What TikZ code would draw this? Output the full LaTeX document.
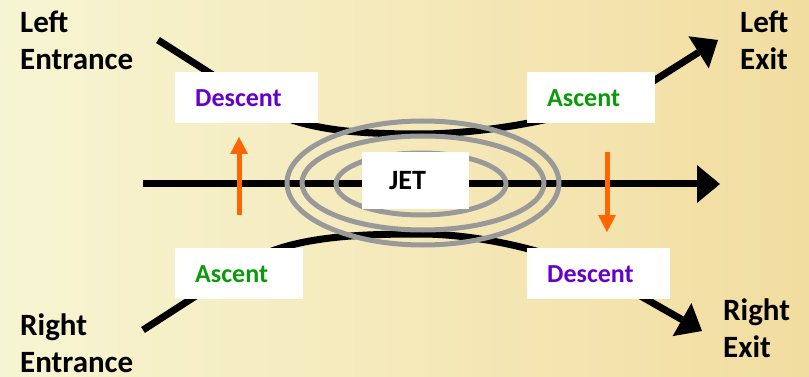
\documentclass[tikz,border=0pt]{standalone}
\usepackage{fontspec}
\setmainfont{Carlito}
\usetikzlibrary{arrows.meta}
\definecolor{bgL}{RGB}{246,245,211}
\definecolor{bgM}{RGB}{245,233,186}
\definecolor{bgR}{RGB}{242,221,160}
\definecolor{ringgray}{RGB}{153,153,153}
\definecolor{orng}{RGB}{255,102,0}
\definecolor{purp}{RGB}{102,0,204}
\definecolor{grn}{RGB}{10,155,10}
\begin{document}
\begin{tikzpicture}[x=1pt,y=-1pt,
  lbl/.style={font=\fontsize{31}{37}\selectfont\bfseries, align=left, inner sep=0pt, anchor=base west},
  box/.style={fill=white, inner sep=0pt, inner xsep=20pt, align=left, minimum height=51pt, anchor=north west, font=\fontsize{26}{30}\selectfont\bfseries},
  flow/.style={line width=7pt, draw=black},
  bigtip/.style={-{Triangle[length=23pt,width=38pt,line width=0pt]}},
  ring/.style={draw=ringgray, line width=5pt},
  vert/.style={draw=orng, line width=5pt, -{Triangle[length=17pt,width=18pt,line width=0pt]}, fill=orng}
]
\shade[left color=bgL, right color=bgR, middle color=bgM] (0,0) rectangle (809,377);
\useasboundingbox (0,0) rectangle (809,377);

% free ends of the connectors
\coordinate (axA) at (143,184);
\coordinate (axB) at (720,184);
\coordinate (upA) at (158,40);
\coordinate (upB) at (718,40);
\coordinate (loA) at (143,330);
\coordinate (loB) at (702,331);
\coordinate (ctr) at (423,183);

% main axis
\draw[flow, bigtip] (axA) -- (axB);
% upper (left) path
\draw[flow, bigtip] (upA) -- (260,105) .. controls (300,131) and (360,134) .. (420,134)
   .. controls (490,134) and (600,115) .. (655,80) -- (upB);
% lower (right) path
\draw[flow, bigtip] (loA) -- (247,263) .. controls (290,236) and (360,234) .. (420,234)
   .. controls (490,234) and (580,258) .. (630,290) -- (loB);

% jet rings
\draw[ring] (ctr) ellipse [x radius=136pt, y radius=62pt];
\draw[ring] (ctr) ellipse [x radius=121pt, y radius=47pt];
\draw[ring] (421,184) ellipse [x radius=85pt, y radius=31pt];

% vertical motion arrows
\coordinate (oA1) at (239,215);
\coordinate (oA2) at (239,137);
\coordinate (oB1) at (607,152);
\coordinate (oB2) at (607,232);
\draw[vert] (oA1) -- (oA2);
\draw[vert] (oB1) -- (oB2);

% boxes
\node[box, text width=103pt, text=purp] (desTL) at (175,72) {Descent};
\node[box, text width=88pt, text=grn] (ascTR) at (527,72) {Ascent};
\node[box, text width=88pt, text=grn] (ascBL) at (175,248) {Ascent};
\node[box, text width=103pt, text=purp] (desBR) at (527,248) {Descent};
\node[box, inner xsep=27pt, text width=53pt, minimum height=57pt, font=\fontsize{28}{32}\selectfont\bfseries] (jet) at (362,152) {JET};

% labels (anchor = baseline of the last line)
\node[lbl] (lent) at (20,70) {Left\\Entrance};
\node[lbl] (lex) at (740,70) {Left\\Exit};
\node[lbl] (rent) at (20,372) {Right\\Entrance};
\node[lbl] (rex) at (723,357) {Right\\Exit};
\end{tikzpicture}
\end{document}
